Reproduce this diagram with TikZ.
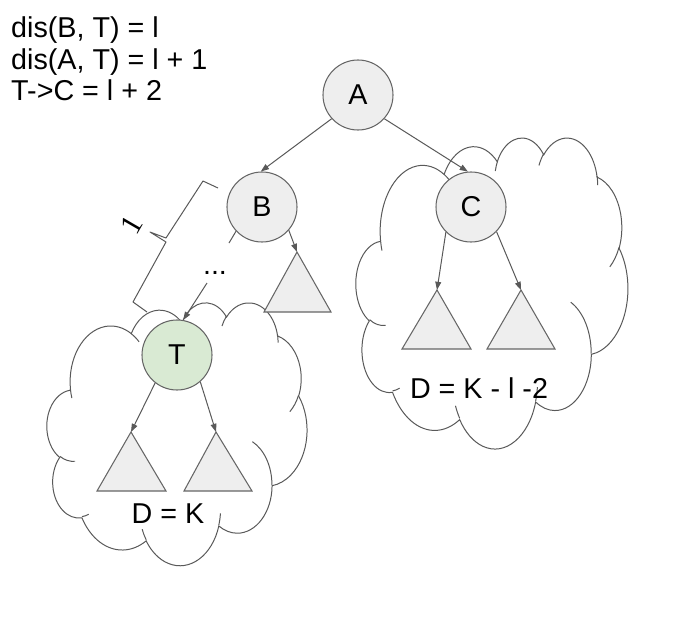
\documentclass[tikz,border=0pt]{standalone}
\usepackage{fontspec}
\setmainfont{Liberation Sans}
\newfontfamily\serifone{Liberation Serif}
\usetikzlibrary{arrows.meta}
\definecolor{strk}{HTML}{666666}
\definecolor{arr}{HTML}{595959}
\definecolor{nodefill}{HTML}{EEEEEE}
\definecolor{tfill}{HTML}{D9EAD3}

% elliptical arc as in the DrawingML cloud preset: wR, hR, start angle, sweep (degrees)
\newcommand\carc[4]{%
 \pgfextra{%
  \pgfmathparse{atan2((#1)*sin(#3),(#2)*cos(#3))}\global\let\cldtA\pgfmathresult
  \pgfmathparse{atan2((#1)*sin(#3+#4),(#2)*cos(#3+#4))}\global\let\cldtR\pgfmathresult
  \pgfmathparse{\cldtA+mod(\cldtR-\cldtA+720,360)}\global\let\cldtB\pgfmathresult
 }%
 arc[start angle=\cldtA, end angle=\cldtB, x radius=#1, y radius=#2]%
}

\newcommand\cloudshape[4]{%
 \pgfmathsetmacro\cwx{#3*0.03/432}%
 \pgfmathsetmacro\cwy{#4*0.03/432}%
 \begin{scope}[shift={(#1,#2)},x={(\cwx cm,0cm)},y={(0cm,-\cwy cm)}]
  \draw[cloudline,fill=white] (39.00,143.70)
    \carc{67.53}{91.90}{-190.4875}{123.7805}
    \carc{53.33}{72.67}{-144.1024}{89.9452}
    \carc{43.65}{59.45}{-145.8079}{99.7230}
    \carc{48.57}{65.95}{-130.9861}{117.2417}
    \carc{53.33}{72.73}{-78.7089}{109.0269}
    \carc{67.75}{92.20}{-46.2673}{130.2690}
    \carc{57.85}{78.67}{0.6250}{114.0333}
    \carc{67.52}{92.15}{22.4516}{115.1726}
    \carc{77.20}{105.43}{66.2426}{75.7110}
    \carc{43.60}{59.18}{-274.9421}{146.7356}
    \carc{43.45}{59.45}{-246.8285}{152.5189}
    -- cycle;
  \draw[cloudline]
    (46.93,261.77) \carc{43.45}{59.45}{86.7420}{26.4295}
    (69.28,348.99) \carc{43.60}{59.18}{73.6105}{11.4475}
    (164.78,390.90) \carc{67.52}{92.15}{137.6242}{14.0811}
    (288.27,347.51) \carc{67.52}{92.15}{6.4533}{15.9984}
    (341.29,229.54) \carc{57.85}{78.67}{-70.2924}{70.9174}
    (417.98,153.54) \carc{53.33}{72.73}{30.3180}{27.7515}
    (383.24,54.26) \carc{48.57}{65.95}{-13.7443}{14.8589}
    (290.78,39.52) \carc{48.57}{65.95}{-149.1815}{18.1954}
    (221.41,47.20) \carc{43.65}{59.45}{-163.4943}{17.6864}
    (140.00,51.92) \carc{67.53}{91.90}{-66.7070}{12.3194}
    (41.27,157.89) \carc{67.53}{91.90}{157.6544}{11.8582};
 \end{scope}}

\tikzset{
  cloudline/.style={draw=arr, line width=0.85pt},
  circnode/.style={circle, draw=strk, fill=nodefill, line width=0.9pt, minimum size=2.1cm, inner sep=0pt,
                   font=\fontsize{24.5pt}{29pt}\selectfont},
  tri/.style={draw=strk, fill=nodefill, line width=0.9pt, line join=miter},
  conn/.style={draw=arr, line width=0.85pt, -{Triangle[length=7pt,width=5pt]}},
  plain/.style={draw=arr, line width=0.85pt},
  txt/.style={font=\fontsize{24.5pt}{29pt}\selectfont, inner sep=0pt},
}

\begin{document}
\begin{tikzpicture}[x=0.03cm,y=-0.03cm]
\useasboundingbox[fill=white] (0,0) rectangle (698,644);

% clouds
\cloudshape{356}{137}{272}{311}
\cloudshape{47}{302}{260}{263}

% text at top left
\node[txt, anchor=base west] (l1) at (11,37) {dis(B, T) = l};
\node[txt, anchor=base west] (l2) at (11,69) {dis(A, T) = l + 1};
\node[txt, anchor=base west] (l3) at (11,100) {T->C = l + 2};

% brace with label
\draw[plain, line join=round] (218,188) -- (203,181) -- (166,238) -- (150,232) -- (166,242) -- (133,302) -- (147,312);
\node[inner sep=0pt, rotate=60, font=\serifone\fontsize{26pt}{28pt}\selectfont] (lab) at (132,225) {1};

% triangles
\coordinate (tB) at (297,252);
\coordinate (tC1) at (437,290);
\coordinate (tC2) at (521,290);
\coordinate (tT1) at (131,432);
\coordinate (tT2) at (216,432);
\draw[tri] (tB) -- (331,312) -- (264,312) -- cycle;
\draw[tri] (tC1) -- (471,349) -- (402,349) -- cycle;
\draw[tri] (tC2) -- (555,349) -- (487,349) -- cycle;
\draw[tri] (tT1) -- (166,491) -- (97,491) -- cycle;
\draw[tri] (tT2) -- (252,491) -- (184,491) -- cycle;

% tree nodes
\node[circnode] (A) at (358,95) {A};
\node[circnode] (B) at (262,207) {B};
\node[circnode] (C) at (471,207) {C};
\node[circnode, fill=tfill] (T) at (177,355) {T};

% labels
\node[txt, anchor=base] (dots) at (215,274) {...};
\node[txt, anchor=base] (dT) at (168,523) {D = K};
\node[txt, anchor=base] (dC) at (479,398) {D = K - l -2};

% connectors
\coordinate (bd) at (229,243);
\coordinate (dd) at (207,283);
\draw[conn] (A.222) -- (B.92);
\draw[conn] (A.318) -- (C.95);
\draw[conn] (B.-41) -- (tB);
\draw[plain] (B.223) -- (bd);
\draw[conn] (dd) -- (T.80);
\draw[conn] (T.232) -- (tT1);
\draw[conn] (T.-49) -- (tT2);
\draw[conn] (C.225) -- (tC1);
\draw[conn] (C.-44) -- (tC2);
\end{tikzpicture}
\end{document}
